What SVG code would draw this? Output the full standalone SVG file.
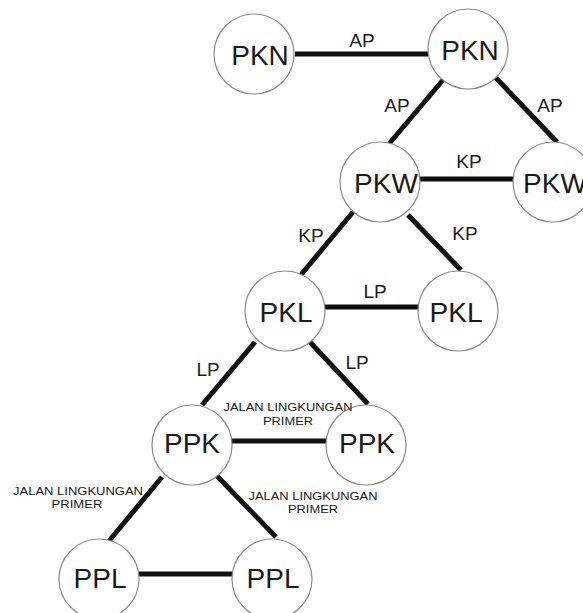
<svg xmlns="http://www.w3.org/2000/svg" width="583" height="613" viewBox="0 0 583 613">
<style>
.node circle{fill:#fff;stroke:#8a8a8a;stroke-width:1.2}
.node text{font-family:"Liberation Sans",Arial,sans-serif;font-size:28px;fill:#1a1a1a;text-anchor:middle}
.edges line{stroke:#111;stroke-width:5}
.lbl{font-family:"Liberation Sans",Arial,sans-serif;font-size:19px;fill:#1a1a1a;text-anchor:middle}
.sm{font-family:"Liberation Sans",Arial,sans-serif;font-size:11.5px;fill:#1a1a1a;text-anchor:middle}
</style>
<rect width="583" height="613" fill="#fff"/>
<g class="edges">
<line x1="295" y1="54" x2="428" y2="54"/>
<line x1="443" y1="80" x2="388" y2="145"/>
<line x1="495" y1="77" x2="557" y2="142"/>
<line x1="420" y1="179" x2="513" y2="179"/>
<line x1="353" y1="212" x2="300" y2="276"/>
<line x1="408" y1="215" x2="461" y2="270"/>
<line x1="325" y1="307" x2="419" y2="307"/>
<line x1="255" y1="342" x2="202" y2="405"/>
<line x1="308" y1="340" x2="368" y2="404"/>
<line x1="232" y1="441" x2="326" y2="441"/>
<line x1="162" y1="477" x2="109" y2="541"/>
<line x1="215" y1="474" x2="276" y2="537"/>
<line x1="139" y1="574" x2="232" y2="574"/>
</g>
<g class="node" id="pkn1"><circle cx="254" cy="54" r="40"/><text x="260" y="65">PKN</text></g>
<g class="node" id="pkn2"><circle cx="468" cy="49" r="40"/><text x="470" y="60">PKN</text></g>
<g class="node" id="pkw1"><circle cx="380" cy="182" r="40"/><text x="386" y="193">PKW</text></g>
<g class="node" id="pkw2"><circle cx="553" cy="182" r="40"/><text x="555" y="193">PKW</text></g>
<g class="node" id="pkl1"><circle cx="285" cy="311" r="40"/><text x="286" y="322">PKL</text></g>
<g class="node" id="pkl2"><circle cx="458" cy="311" r="40"/><text x="456" y="322">PKL</text></g>
<g class="node" id="ppk1"><circle cx="192" cy="445" r="40"/><text x="192" y="453">PPK</text></g>
<g class="node" id="ppk2"><circle cx="366" cy="445" r="40"/><text x="367" y="453">PPK</text></g>
<g class="node" id="ppl1"><circle cx="99" cy="579" r="40"/><text x="100" y="588">PPL</text></g>
<g class="node" id="ppl2"><circle cx="272" cy="579" r="40"/><text x="273" y="588">PPL</text></g>
<g id="labels">
<text class="lbl" x="362" y="47">AP</text>
<text class="lbl" x="397" y="112">AP</text>
<text class="lbl" x="550" y="112">AP</text>
<text class="lbl" x="469" y="168">KP</text>
<text class="lbl" x="311" y="242">KP</text>
<text class="lbl" x="465" y="240">KP</text>
<text class="lbl" x="375" y="298">LP</text>
<text class="lbl" x="208" y="376">LP</text>
<text class="lbl" x="357" y="369">LP</text>
<text class="sm" x="288" y="411" textLength="129" lengthAdjust="spacingAndGlyphs">JALAN LINGKUNGAN</text>
<text class="sm" x="288" y="425" textLength="50" lengthAdjust="spacingAndGlyphs">PRIMER</text>
<text class="sm" x="78" y="495" textLength="130" lengthAdjust="spacingAndGlyphs">JALAN LINGKUNGAN</text>
<text class="sm" x="77" y="508" textLength="51" lengthAdjust="spacingAndGlyphs">PRIMER</text>
<text class="sm" x="313" y="500" textLength="129" lengthAdjust="spacingAndGlyphs">JALAN LINGKUNGAN</text>
<text class="sm" x="313" y="513" textLength="50" lengthAdjust="spacingAndGlyphs">PRIMER</text>
</g>
</svg>
